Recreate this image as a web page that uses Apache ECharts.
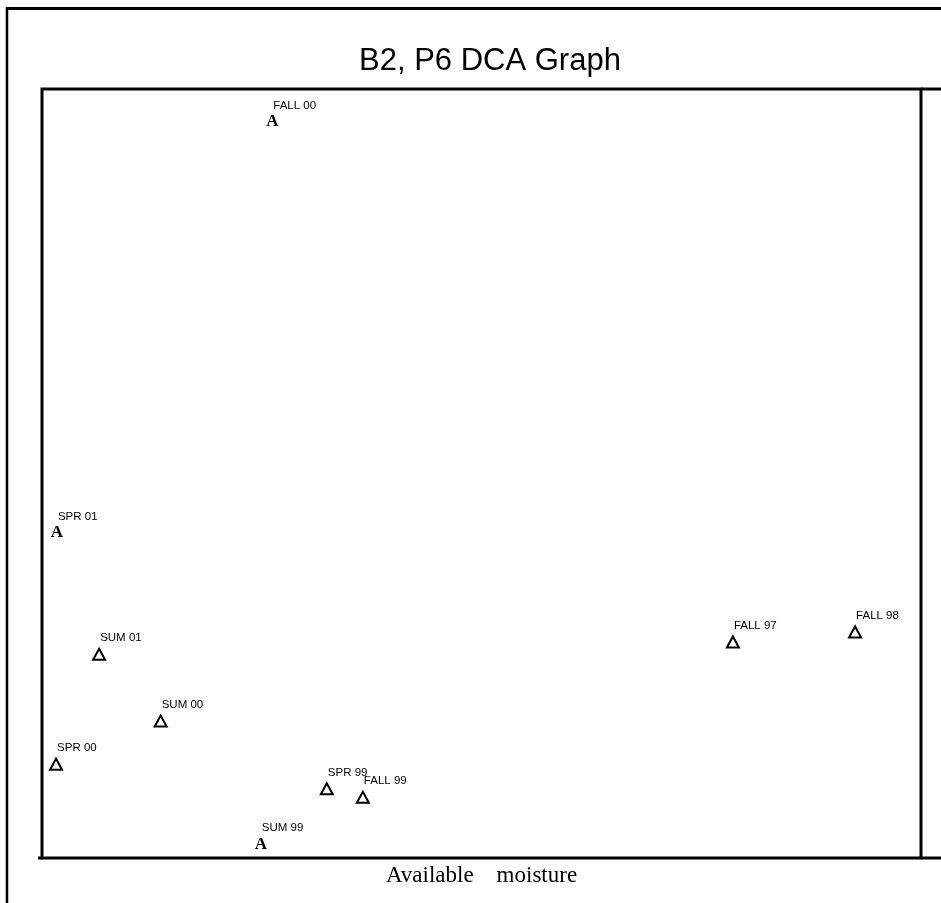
<!DOCTYPE html>
<html>
<head>
<meta charset="utf-8" />
<title>B2, P6 DCA Graph</title>
<script src="https://cdn.jsdelivr.net/npm/echarts@6/dist/echarts.min.js"></script>
<style>
  html, body { margin: 0; padding: 0; background: #fff; }
  #chart { width: 941px; height: 903px; }
</style>
</head>
<body>
<div id="chart"></div>
<script>
// sample scores (axis units 0-100)
const names = ["FALL 00", "SPR 01", "SUM 01", "SUM 00", "SPR 00", "SPR 99", "FALL 99", "SUM 99", "FALL 97", "FALL 98"];
const xVals = [26.2, 1.7, 6.5, 13.5, 1.6, 32.4, 36.5, 24.9, 78.6, 92.5];
const yVals = [95.7, 42.3, 26.5, 17.8, 12.2, 9.0, 7.9, 1.8, 28.1, 29.4];
// "A" = letter marker, "T" = hollow triangle
const markers = ["A", "A", "T", "T", "T", "T", "T", "A", "T", "T"];

const chart = echarts.init(document.getElementById("chart"), null, { renderer: "canvas" });

const points = names.map((n, i) => [xVals[i], yVals[i], i]);

function renderPoint(params, api) {
  const i = api.value(2);
  const p = api.coord([api.value(0), api.value(1)]);
  const children = [];
  if (markers[i] === "A") {
    children.push({
      type: "text",
      x: p[0],
      y: p[1],
      style: {
        text: "A",
        font: "bold 17px 'Liberation Serif', serif",
        fill: "#000",
        textAlign: "center",
        textVerticalAlign: "middle",
      },
    });
  } else {
    children.push({
      type: "polygon",
      shape: {
        points: [
          [p[0] - 6, p[1] + 5.5],
          [p[0] + 6, p[1] + 5.5],
          [p[0], p[1] - 5.5],
        ],
      },
      style: { fill: "#fff", stroke: "#000", lineWidth: 2 },
    });
  }
  children.push({
    type: "text",
    x: p[0] + 1,
    y: p[1] - 16,
    style: {
      text: names[i],
      font: "11.5px 'Liberation Sans', Arial, sans-serif",
      fill: "#000",
      textAlign: "left",
      textVerticalAlign: "middle",
    },
  });
  return { type: "group", children: children };
}

chart.setOption({
  animation: false,
  backgroundColor: "#fff",
  title: {
    text: "B2, P6 DCA Graph",
    left: 354,
    top: 41,
    textStyle: {
      fontFamily: "'Liberation Sans', Arial, sans-serif",
      fontWeight: "normal",
      fontSize: 31,
      color: "#000",
    },
  },
  grid: {
    left: 42,
    right: 20,
    top: 89,
    bottom: 45,
    show: true,
    borderColor: "#000",
    borderWidth: 3,
  },
  xAxis: {
    type: "value",
    min: 0,
    max: 100,
    name: "Available    moisture",
    nameLocation: "middle",
    nameGap: 6,
    nameTextStyle: {
      fontFamily: "'Liberation Serif', 'Times New Roman', serif",
      fontSize: 23,
      color: "#000",
    },
    axisLine: { show: false },
    axisTick: { show: false },
    axisLabel: { show: false },
    splitLine: { show: false },
  },
  yAxis: {
    type: "value",
    min: 0,
    max: 100,
    axisLine: { show: false },
    axisTick: { show: false },
    axisLabel: { show: false },
    splitLine: { show: false },
  },
  // outer frame and the line stubs past the plot box
  graphic: [
    { type: "line", shape: { x1: 7, y1: 8.5, x2: 941, y2: 8.5 }, style: { stroke: "#000", lineWidth: 3 } },
    { type: "line", shape: { x1: 7, y1: 7, x2: 7, y2: 903 }, style: { stroke: "#000", lineWidth: 2.5 } },
    { type: "line", shape: { x1: 921, y1: 89, x2: 941, y2: 89 }, style: { stroke: "#000", lineWidth: 3 } },
    { type: "line", shape: { x1: 921, y1: 858, x2: 941, y2: 858 }, style: { stroke: "#000", lineWidth: 3 } },
    { type: "line", shape: { x1: 38, y1: 858, x2: 42, y2: 858 }, style: { stroke: "#000", lineWidth: 3 } },
  ],
  series: [
    {
      type: "custom",
      clip: false,
      renderItem: renderPoint,
      data: points,
    },
  ],
});
</script>
</body>
</html>
